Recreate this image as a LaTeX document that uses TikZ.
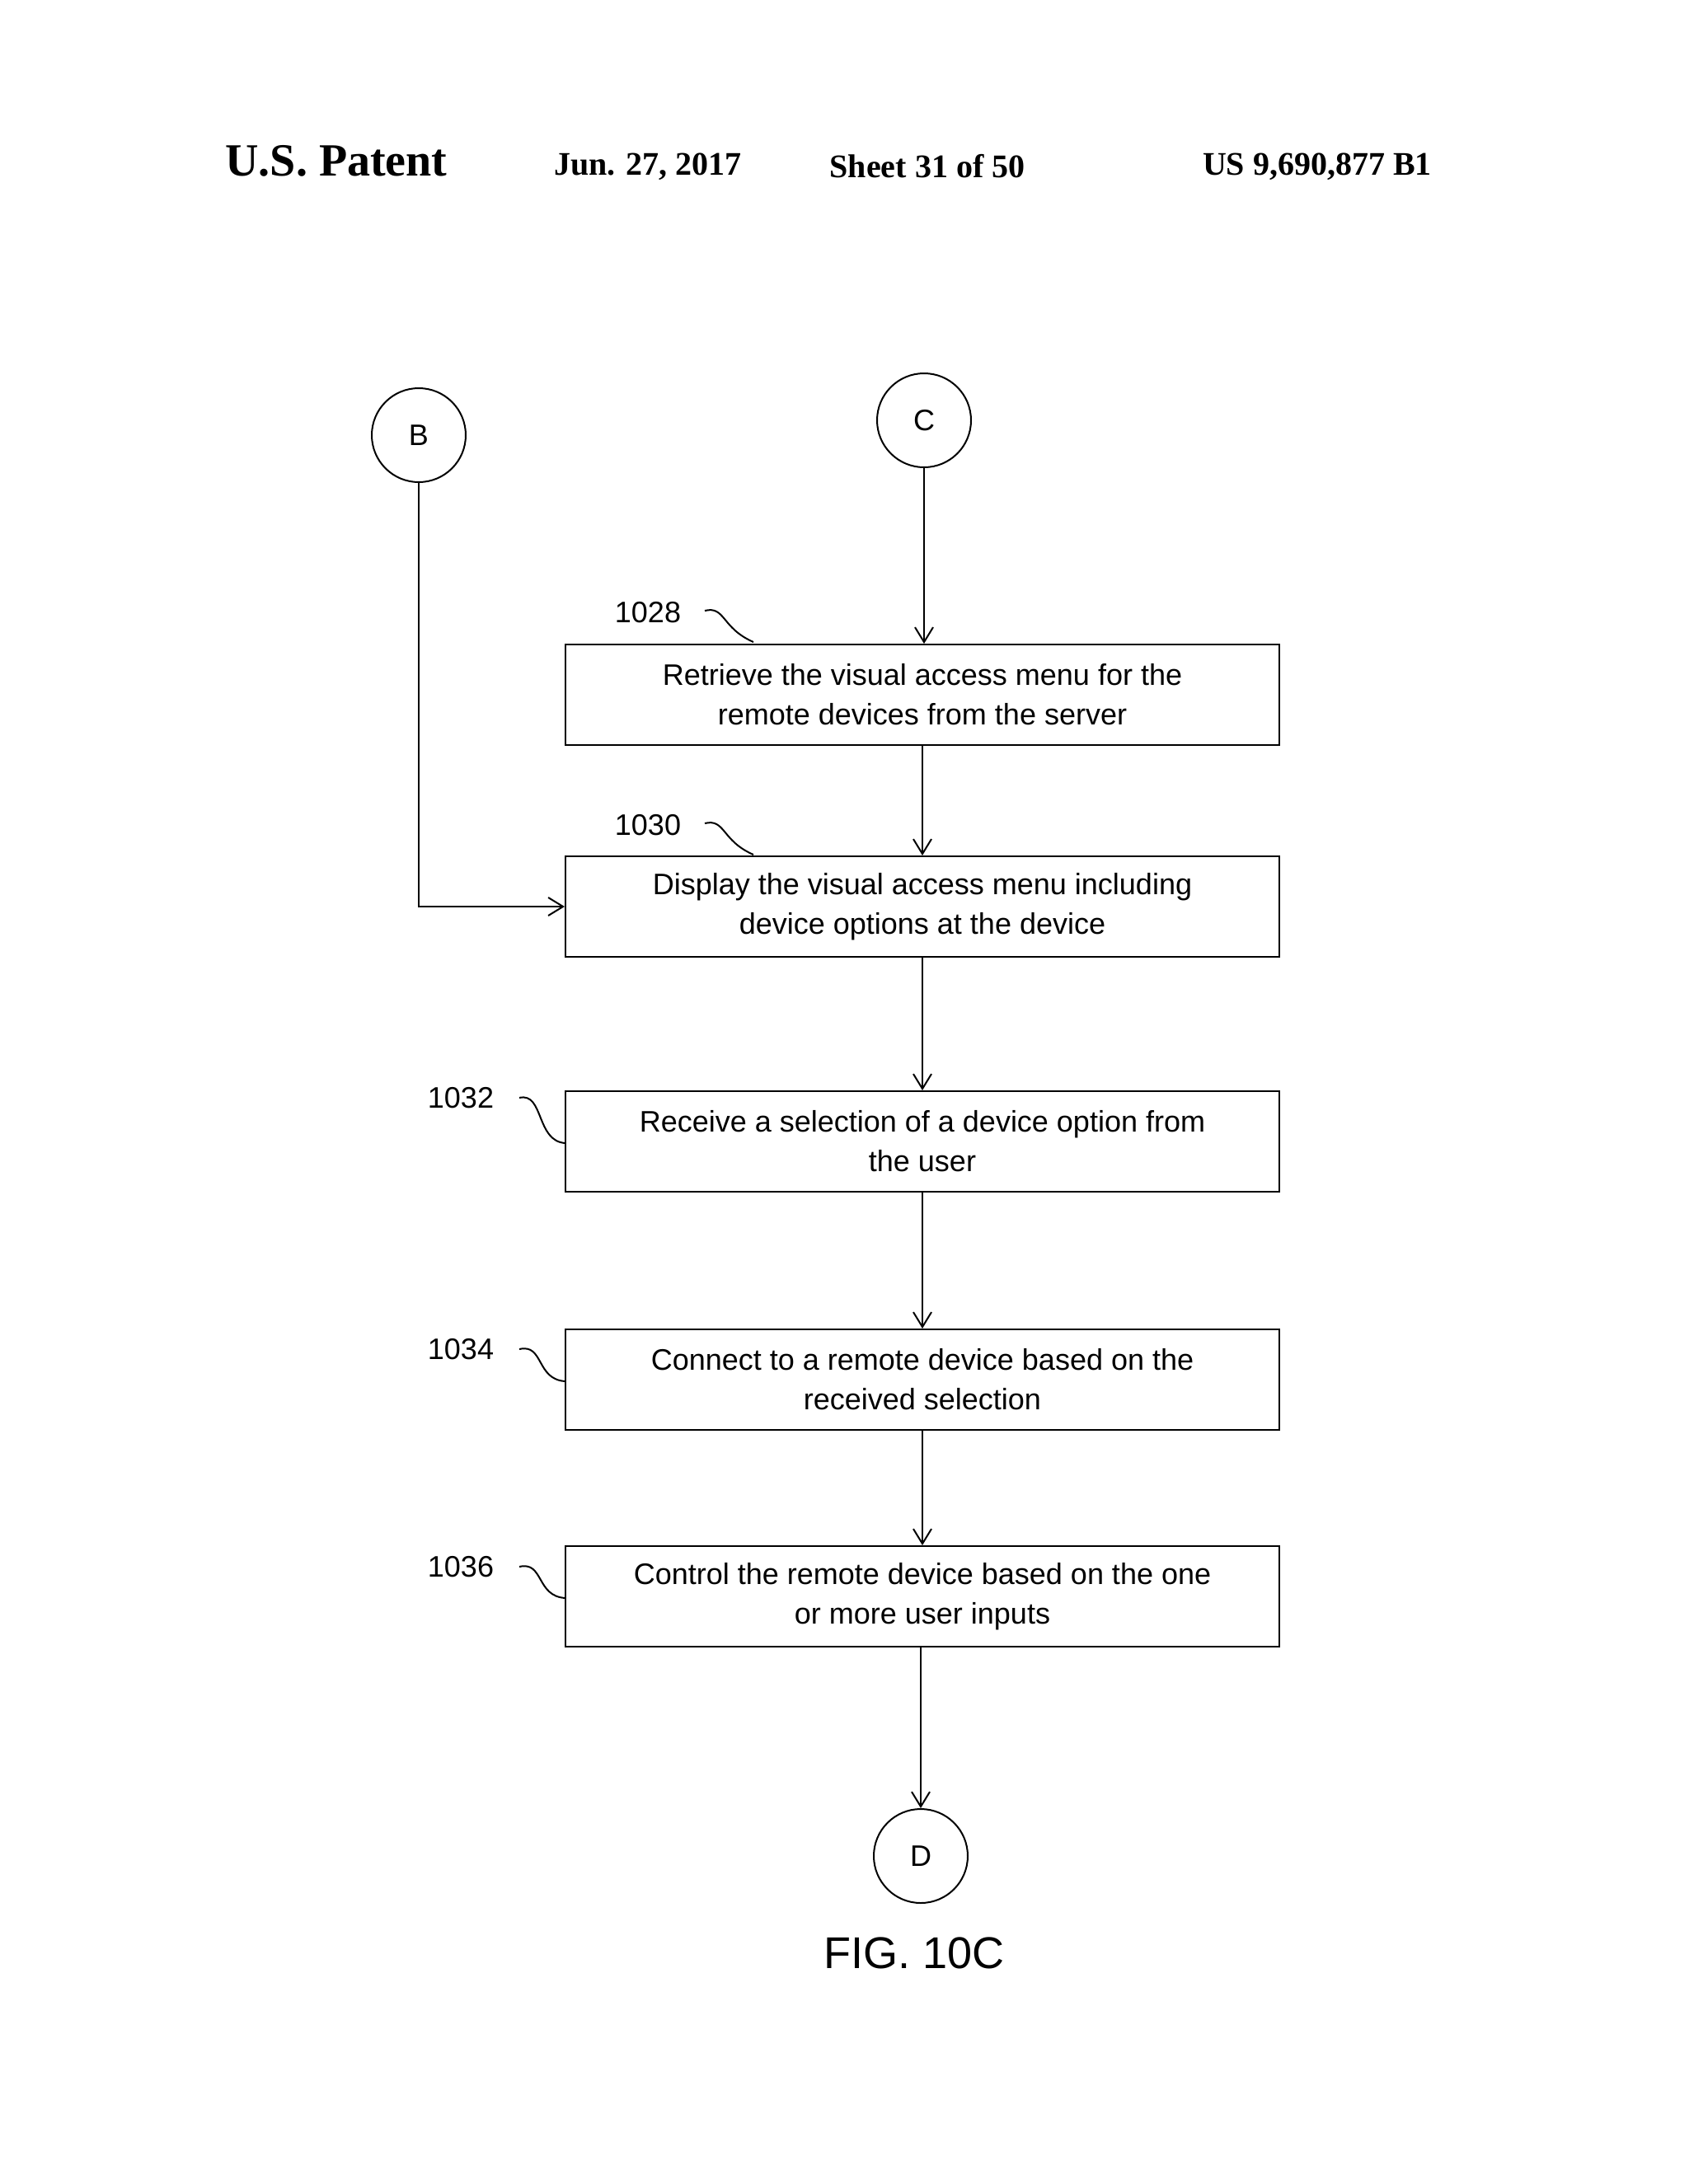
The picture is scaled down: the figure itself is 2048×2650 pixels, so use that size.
\documentclass[tikz,border=0pt]{standalone}
\usepackage{fontspec}
\setmainfont{Liberation Sans}
\newfontfamily\hdr{Liberation Serif}
\usetikzlibrary{arrows.meta}
\begin{document}
\begin{tikzpicture}[x=1pt,y=-1pt,line width=2pt,
  box/.style={draw,minimum width=866pt,minimum height=122pt,align=center,font=\fontsize{36}{48}\selectfont,inner sep=0},
  conn/.style={draw,circle,minimum size=114pt,inner sep=0,font=\fontsize{36}{40}\selectfont},
  arr/.style={-{Straight Barb[length=18pt,width=22pt]}},
  lbl/.style={font=\fontsize{36}{40}\selectfont},
  hd/.style={font=\hdr\bfseries\fontsize{40}{44}\selectfont}]
\useasboundingbox (0,0) rectangle (2048,2650);
\node[hd,font=\hdr\bfseries\fontsize{56}{60}\selectfont] (h1) at (408,195) {U.S. Patent};
\node[hd] (h2) at (786,202) {Jun. 27, 2017};
\node[hd] (h3) at (1125,202) {Sheet 31 of 50};
\node[hd] (h4) at (1598,202) {US 9,690,877 B1};

\node[conn] (B) at (508,528) {B};
\node[conn] (C) at (1121,510) {C};
\node[box] (b1) at (1119,843) {Retrieve the visual access menu for the\\remote devices from the server};
\node[box] (b2) at (1119,1100) {Display the visual access menu including\\device options at the device};
\node[box] (b3) at (1119,1385) {Receive a selection of a device option from\\the user};
\node[box] (b4) at (1119,1674) {Connect to a remote device based on the\\received selection};
\node[box] (b5) at (1119,1937) {Control the remote device based on the one\\or more user inputs};
\node[conn] (D) at (1117,2252) {D};
\node[font=\fontsize{54}{60}\selectfont] (fig) at (1109,2370) {FIG. 10C};

\draw[arr] (C) -- (C|-b1.north);
\draw[arr] (b1) -- (b2);
\draw[arr] (b2) -- (b3);
\draw[arr] (b3) -- (b4);
\draw[arr] (b4) -- (b5);
\draw[arr] (b5.south-|D) -- (D);
\draw[arr] (B) |- (b2.west);

\node[lbl] (l1) at (786,743) {1028};
\node[lbl] (l2) at (786,1001) {1030};
\node[lbl] (l3) at (559,1332) {1032};
\node[lbl] (l4) at (559,1637) {1034};
\node[lbl] (l5) at (559,1901) {1036};
\draw (855,741) .. controls (880,735) and (875,762) .. (914,779);
\draw (855,999) .. controls (880,993) and (875,1020) .. (914,1037);
\draw (630,1332) .. controls (660,1325) and (650,1385) .. (686,1387);
\draw (630,1637) .. controls (660,1630) and (650,1674) .. (686,1676);
\draw (630,1901) .. controls (660,1894) and (650,1937) .. (686,1939);
\end{tikzpicture}
\end{document}
